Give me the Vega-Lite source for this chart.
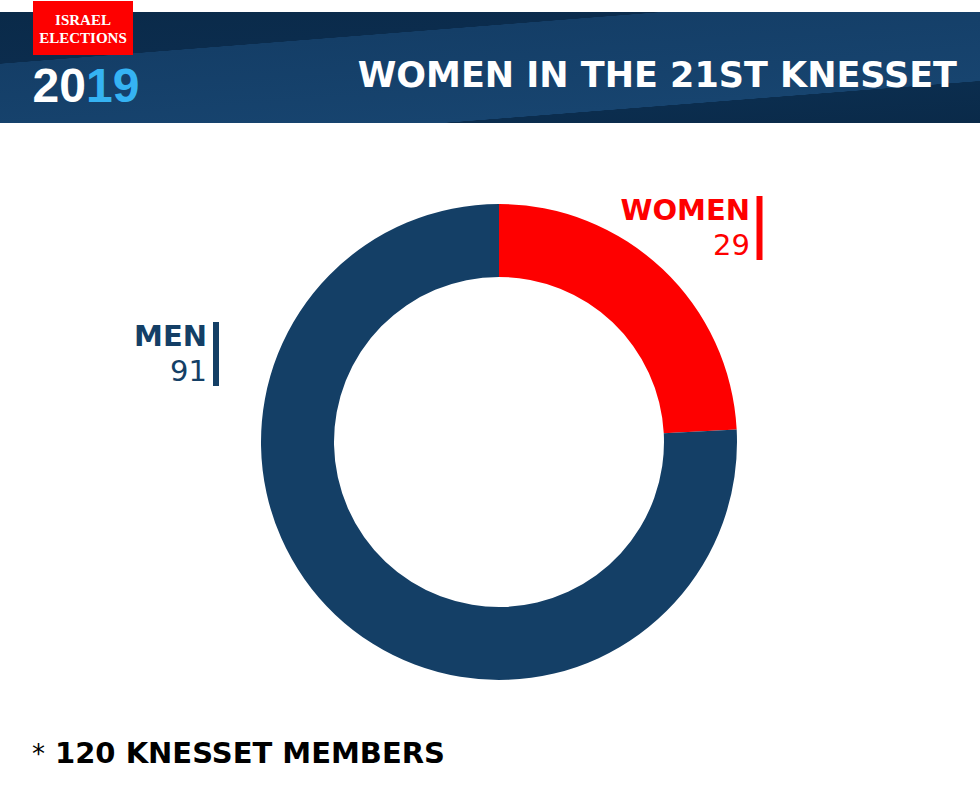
{
  "$schema": "https://vega.github.io/schema/vega-lite/v6.json",
  "autosize": {"type": "none"},
  "padding": {"left": 18, "top": 95, "right": 0, "bottom": 0},
  "width": 962,
  "height": 694,
  "background": "#ffffff",
  "data": {
    "values": [
      {"group": "WOMEN", "count": 29},
      {"group": "MEN", "count": 91}
    ]
  },
  "layer": [
    {
      "data": {"values": [{}]},
      "mark": {
        "type": "rect",
        "fill": {
          "gradient": "linear",
          "x1": 0, "y1": 0, "x2": 0.79, "y2": 1.145,
          "stops": [
            {"offset": 0, "color": "#0a2a49"},
            {"offset": 0.275, "color": "#0b2c4d"},
            {"offset": 0.277, "color": "#143e67"},
            {"offset": 0.775, "color": "#17446f"},
            {"offset": 0.777, "color": "#0b2d4e"},
            {"offset": 1, "color": "#0a2a49"}
          ]
        }
      },
      "encoding": {
        "x": {"value": -18},
        "x2": {"value": 962},
        "y": {"value": -83},
        "y2": {"value": 28}
      }
    },
    {
      "data": {"values": [{}]},
      "mark": {"type": "rect", "fill": "#fe0000"},
      "encoding": {
        "x": {"value": 15},
        "x2": {"value": 115},
        "y": {"value": -94},
        "y2": {"value": -40}
      }
    },
    {
      "data": {"values": [{}]},
      "mark": {
        "type": "text",
        "text": "ISRAEL",
        "font": "Liberation Serif",
        "fontWeight": "bold",
        "fontSize": 15,
        "color": "#ffffff",
        "align": "center",
        "baseline": "alphabetic"
      },
      "encoding": {"x": {"value": 65}, "y": {"value": -70}}
    },
    {
      "data": {"values": [{}]},
      "mark": {
        "type": "text",
        "text": "ELECTIONS",
        "font": "Liberation Serif",
        "fontWeight": "bold",
        "fontSize": 15,
        "color": "#ffffff",
        "align": "center",
        "baseline": "alphabetic"
      },
      "encoding": {"x": {"value": 65}, "y": {"value": -52}}
    },
    {
      "data": {"values": [{}]},
      "mark": {
        "type": "text",
        "text": "20",
        "font": "Liberation Sans",
        "fontWeight": "bold",
        "fontSize": 48,
        "color": "#ffffff",
        "align": "right",
        "baseline": "alphabetic"
      },
      "encoding": {"x": {"value": 68}, "y": {"value": 7}}
    },
    {
      "data": {"values": [{}]},
      "mark": {
        "type": "text",
        "text": "19",
        "font": "Liberation Sans",
        "fontWeight": "bold",
        "fontSize": 48,
        "color": "#35b3f3",
        "align": "left",
        "baseline": "alphabetic"
      },
      "encoding": {"x": {"value": 68}, "y": {"value": 7}}
    },
    {
      "data": {"values": [{}]},
      "mark": {
        "type": "text",
        "text": "WOMEN IN THE 21ST KNESSET",
        "font": "DejaVu Sans",
        "fontWeight": "bold",
        "fontSize": 35,
        "color": "#ffffff",
        "align": "right",
        "baseline": "alphabetic"
      },
      "encoding": {"x": {"value": 939}, "y": {"value": -8}}
    },
    {
      "mark": {"type": "arc", "radius": 238, "innerRadius": 165},
      "encoding": {
        "theta": {"field": "count", "type": "quantitative", "stack": true},
        "order": {"field": "group", "sort": "descending"},
        "color": {
          "field": "group",
          "type": "nominal",
          "scale": {"domain": ["WOMEN", "MEN"], "range": ["#fe0000", "#143f66"]},
          "legend": null
        }
      }
    },
    {
      "mark": {
        "type": "text",
        "font": "DejaVu Sans",
        "fontWeight": "bold",
        "fontSize": 29,
        "align": "right",
        "baseline": "alphabetic"
      },
      "encoding": {
        "x": {
          "field": "group", "type": "nominal", "axis": null,
          "scale": {"type": "point", "domain": ["MEN", "WOMEN"], "range": [189, 732], "padding": 0}
        },
        "y": {
          "field": "group", "type": "nominal", "axis": null,
          "scale": {"type": "point", "domain": ["WOMEN", "MEN"], "range": [125, 251], "padding": 0}
        },
        "text": {"field": "group", "type": "nominal"},
        "color": {"field": "group", "type": "nominal", "legend": null}
      }
    },
    {
      "mark": {
        "type": "text",
        "font": "DejaVu Sans",
        "fontSize": 29,
        "align": "right",
        "baseline": "alphabetic",
        "dy": 35
      },
      "encoding": {
        "x": {
          "field": "group", "type": "nominal", "axis": null,
          "scale": {"type": "point", "domain": ["MEN", "WOMEN"], "range": [189, 732], "padding": 0}
        },
        "y": {
          "field": "group", "type": "nominal", "axis": null,
          "scale": {"type": "point", "domain": ["WOMEN", "MEN"], "range": [125, 251], "padding": 0}
        },
        "text": {"field": "count", "type": "quantitative"},
        "color": {"field": "group", "type": "nominal", "legend": null}
      }
    },
    {
      "mark": {"type": "tick", "orient": "vertical", "size": 64, "thickness": 6, "opacity": 1},
      "encoding": {
        "x": {
          "field": "group", "type": "nominal", "axis": null,
          "scale": {"type": "point", "domain": ["MEN", "WOMEN"], "range": [198, 741.5], "padding": 0}
        },
        "y": {
          "field": "group", "type": "nominal", "axis": null,
          "scale": {"type": "point", "domain": ["WOMEN", "MEN"], "range": [133, 259], "padding": 0}
        },
        "color": {"field": "group", "type": "nominal", "legend": null}
      }
    },
    {
      "data": {"values": [{}]},
      "mark": {
        "type": "text",
        "text": "*",
        "font": "DejaVu Sans",
        "fontSize": 26,
        "color": "#000000",
        "align": "left",
        "baseline": "alphabetic"
      },
      "encoding": {"x": {"value": 14}, "y": {"value": 668}}
    },
    {
      "data": {"values": [{}]},
      "mark": {
        "type": "text",
        "text": "120 KNESSET MEMBERS",
        "font": "DejaVu Sans",
        "fontWeight": "bold",
        "fontSize": 29,
        "color": "#000000",
        "align": "left",
        "baseline": "alphabetic"
      },
      "encoding": {"x": {"value": 37}, "y": {"value": 668}}
    }
  ],
  "resolve": {"scale": {"x": "independent", "y": "independent"}},
  "config": {"view": {"stroke": null}}
}
